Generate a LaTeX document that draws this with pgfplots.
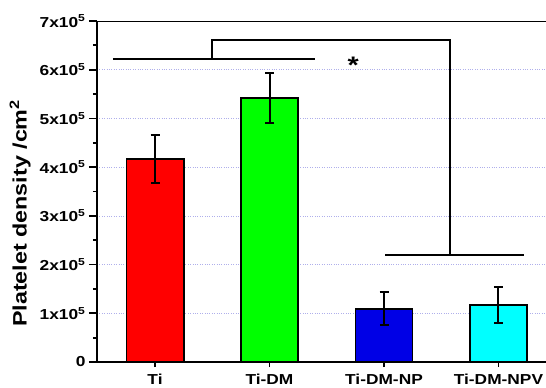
\documentclass[border=0pt]{standalone}
\usepackage{fontspec}
\setmainfont{Liberation Sans}[FakeStretch=1.2]
\usepackage{pgfplots}
\pgfplotsset{compat=1.18}
\definecolor{gridc}{RGB}{175,175,235}
\definecolor{cgreen}{RGB}{0,255,0}
\definecolor{cblue}{RGB}{0,0,230}
\definecolor{ccyan}{RGB}{0,255,255}
\pgfplotsset{
  mybar/.style={draw=black, line width=1.7pt, fill=#1,
    error bars/.cd, y dir=both, y explicit,
    error bar style={line width=2pt, black},
    error mark options={rotate=90, mark size=4.5bp, line width=2pt, black}},
}
\begin{document}
\begin{tikzpicture}
\begin{axis}[
  scale only axis, width=449bp, height=341bp,
  xmin=-0.507, xmax=3.415, ymin=0, ymax=700000,
  axis lines=left, axis line style={-, line width=2pt},
  ybar, bar width=0.5, bar shift=0pt,
  xtick={0,1,2,3}, xticklabels={Ti,Ti-DM,Ti-DM-NP,Ti-DM-NPV},
  ytick={0,100000,200000,300000,400000,500000,600000,700000},
  yticklabels={0,1x10\textsuperscript{5},2x10\textsuperscript{5},3x10\textsuperscript{5},4x10\textsuperscript{5},5x10\textsuperscript{5},6x10\textsuperscript{5},7x10\textsuperscript{5}},
  scaled y ticks=false,
  minor y tick num=1,
  tick align=outside,
  xtick pos=bottom, ytick pos=left,
  major tick length=8bp, minor tick length=4bp,
  xtick style={/pgfplots/major tick length=5bp},
  every tick/.style={black, line width=1.8pt},
  ymajorgrids, grid style={gridc, dotted, line width=0.7pt},
  ticklabel style={font=\bfseries\fontsize{14.5}{16}\selectfont},
  ylabel={Platelet density /cm\textsuperscript{2}},
  ylabel style={font=\bfseries\fontsize{19.5}{21}\selectfont, at={(axis description cs:-0.171,0.436)}, anchor=center},
]
\addplot[mybar=red] coordinates {(0,417000) +- (0,49000)};
\addplot[mybar=cgreen] coordinates {(1,542000) +- (0,51000)};
\addplot[mybar=cblue] coordinates {(2,109000) +- (0,34000)};
\addplot[mybar=ccyan] coordinates {(3,117000) +- (0,37000)};
\draw[line width=2pt] (rel axis cs:0,1) -- (rel axis cs:1,1);
\draw[line width=2pt] (axis cs:-0.368,623000) -- (axis cs:1.40,623000);
\draw[line width=2pt] (axis cs:0.50,623000) -- (axis cs:0.50,661000) -- (axis cs:2.58,661000) -- (axis cs:2.58,220000);
\draw[line width=2pt] (axis cs:2.01,220000) -- (axis cs:3.22,220000);
\node[font=\bfseries\fontsize{24}{26}\selectfont] at (axis cs:1.73,610000) {*};
\coordinate (bbSW) at (axis description cs:-0.216,-0.0762);
\coordinate (bbNE) at (axis description cs:1.0,1.0616);
\end{axis}
\pgfresetboundingbox
\path (bbSW) rectangle (bbNE);
\end{tikzpicture}
\end{document}
